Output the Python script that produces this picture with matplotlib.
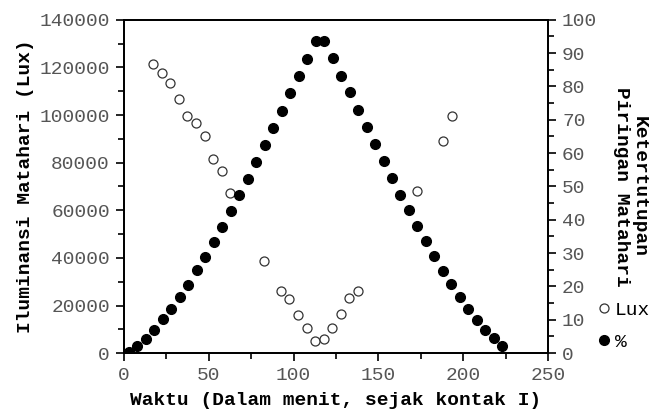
import matplotlib.pyplot as plt
from matplotlib.ticker import MultipleLocator

# waktu (menit sejak kontak I) dan data iluminansi
lux_t = [17.3, 22.6, 27.3, 32.4, 37.3, 42.5, 47.6, 52.7, 57.8, 62.5,
         82.5, 92.6, 97.5, 102.6, 107.7, 112.8, 117.9, 122.8, 128.0, 132.8,
         137.8, 172.9, 188.1, 193.2]
lux_val = [121500, 117600, 113600, 106800, 99500, 96600, 91100, 81600, 76400, 67100,
           38700, 26200, 22800, 15900, 10400, 5200, 5800, 10600, 16500, 23100,
           25900, 68200, 89300, 99600]

# ketertutupan piringan matahari (%)
pct_t = list(range(3, 224, 5))
pct_val = [0.4, 2.1, 4.1, 6.9, 10.1, 13.2, 16.8, 20.5, 24.8, 28.8,
           33.3, 37.8, 42.7, 47.4, 52.1, 57.2, 62.3, 67.5, 72.6, 77.9,
           83.0, 88.3, 93.6, 93.6, 88.5, 83.2, 78.3, 73.0, 67.9, 62.8,
           57.7, 52.5, 47.5, 42.9, 38.1, 33.6, 29.2, 24.7, 20.8, 16.8,
           13.3, 9.9, 6.9, 4.4, 2.2]

FONT = "Liberation Mono"
TICK_C = "#555555"

fig = plt.figure(figsize=(6.66, 4.13), dpi=100)
ax = fig.add_axes([0.186, 0.145, 0.637, 0.807])
ax2 = ax.twinx()

h1, = ax.plot(lux_t, lux_val, "o", ms=6.5, mfc="white", mec="#333333", mew=0.9,
              linestyle="none", label="Lux", zorder=3)
h2, = ax2.plot(pct_t, pct_val, "o", ms=7, mfc="black", mec="black",
               linestyle="none", label="%", zorder=3)

ax.set_xlim(0, 250)
ax.set_ylim(0, 140000)
ax2.set_ylim(0, 100)

ax.xaxis.set_major_locator(MultipleLocator(50))
ax.xaxis.set_minor_locator(MultipleLocator(25))
ax.yaxis.set_major_locator(MultipleLocator(20000))
ax.yaxis.set_minor_locator(MultipleLocator(10000))
ax2.yaxis.set_major_locator(MultipleLocator(10))
ax2.yaxis.set_minor_locator(MultipleLocator(5))

for a in (ax, ax2):
    a.tick_params(which="major", direction="out", length=6, width=1.2,
                  labelsize=14, labelcolor=TICK_C, pad=4)
    a.tick_params(which="minor", direction="out", length=4, width=1.2)
    for lab in a.get_xticklabels() + a.get_yticklabels():
        lab.set_fontfamily(FONT)
    for sp in a.spines.values():
        sp.set_linewidth(1.3)
ax.tick_params(axis="x", which="both", top=False)

ax.set_xlabel("Waktu (Dalam menit, sejak kontak I)", fontfamily=FONT,
              fontweight="bold", fontsize=14, labelpad=6)
ax.set_ylabel("Iluminansi Matahari (Lux)", fontfamily=FONT,
              fontweight="bold", fontsize=14, labelpad=4)
ax2.set_ylabel("Ketertutupan\nPiringan Matahari", fontfamily=FONT,
               fontweight="bold", fontsize=14, rotation=270, labelpad=36,
               linespacing=1.05)

fig.legend(handles=[h1, h2], loc="upper left", bbox_to_anchor=(0.88, 0.29),
           frameon=False, prop={"family": FONT, "size": 14},
           handletextpad=0.1, handlelength=1.0, labelspacing=0.75,
           borderaxespad=0)

fig.savefig("out.png", dpi=100)
